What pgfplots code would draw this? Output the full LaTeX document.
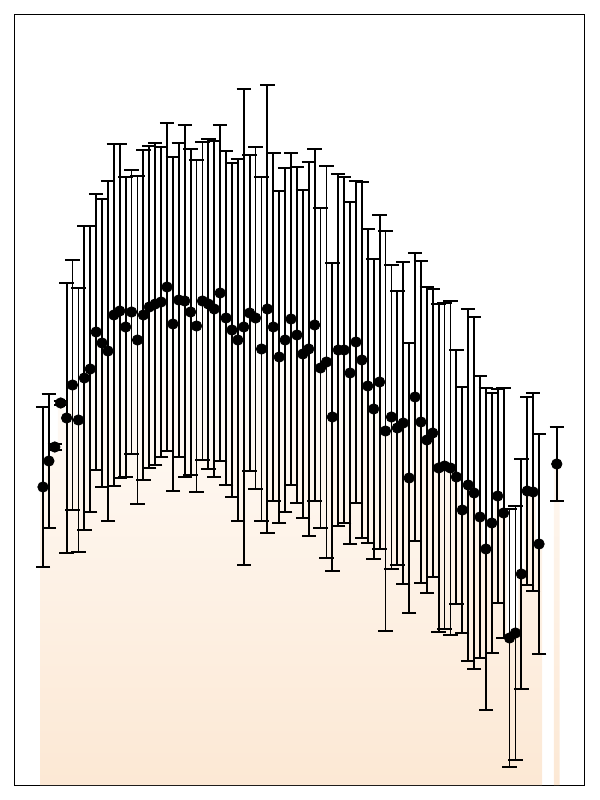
\documentclass[border=0pt]{standalone}
\usepackage{pgfplots}
\pgfplotsset{compat=1.18}
\usepackage{pgfplotstable}
\definecolor{barc}{RGB}{252,232,212}

% x: slot index, y: mean, e: symmetric error
\pgfplotstableread{
x y e
0 29.8 8.0
1 32.4 6.7
2 33.8 0.3
3 38.2 0.2
4 36.7 13.5
5 40.0 12.5
6 36.5 13.2
7 40.7 15.2
8 41.6 14.3
9 45.3 13.8
10 44.2 14.4
11 43.4 17.0
12 47.0 17.1
13 47.4 16.7
14 45.8 15.0
15 47.3 14.2
16 44.5 16.4
17 47.0 16.5
18 47.8 16.1
19 48.1 16.1
20 48.3 15.5
21 49.8 16.4
22 46.1 16.7
23 48.5 15.7
24 48.4 17.6
25 47.3 16.3
26 45.9 16.6
27 48.4 15.9
28 48.1 16.5
29 47.6 16.8
30 49.2 16.8
31 46.7 16.7
32 45.5 16.7
33 44.5 18.1
34 45.8 23.8
35 47.2 15.8
36 46.7 17.1
37 43.6 17.2
38 47.6 22.4
39 45.8 17.4
40 42.8 16.6
41 44.5 17.2
42 46.6 16.6
43 45.0 16.8
44 43.1 16.4
45 43.6 18.7
46 46.0 17.6
47 41.7 16.0
48 42.3 19.6
49 36.8 15.4
50 43.5 17.6
51 43.5 17.3
52 41.2 17.1
53 44.3 16.1
54 42.5 17.8
55 39.9 15.7
56 37.6 15.0
57 40.3 16.7
58 35.4 20.0
59 36.8 15.2
60 35.7 13.7
61 36.2 16.1
62 30.7 13.5
63 38.8 14.4
64 36.3 16.1
65 34.5 15.3
66 35.2 14.4
67 31.7 16.4
68 31.9 16.3
69 31.7 16.7
70 30.8 12.7
71 27.5 12.3
72 30.0 17.6
73 29.2 17.6
74 26.8 14.1
75 23.6 16.1
76 26.2 13.0
77 28.9 10.7
78 27.2 12.5
79 14.7 12.9
80 15.2 12.7
81 21.1 11.5
82 29.4 9.4
83 29.3 9.9
84 24.1 11.0
87 32.1 3.7
}\means

\begin{document}
\begin{tikzpicture}
\begin{axis}[scale only axis,width=285pt,height=385pt,
  xmin=-4.74,xmax=91.78,ymin=0,ymax=77,
  xtick=\empty,ytick=\empty,axis line style={line width=0.5pt}]
\addplot[ybar,bar width=1,bar shift=0pt,draw=none,
  top color=white,middle color=barc!80!white,bottom color=barc] table[x=x,y=y] {\means};
\addplot[only marks,mark=*,mark size=2.6pt,black,
  error bars/.cd,y dir=both,y explicit,
  error bar style={line width=0.9pt,black},
  error mark options={rotate=90,mark size=3.6pt,line width=0.9pt,black}]
  table[x=x,y=y,y error=e] {\means};
\end{axis}
\path (current axis.south west)+(-7.5pt,-7.5pt) (current axis.north east)+(7.5pt,7.5pt);
\end{tikzpicture}
\end{document}
